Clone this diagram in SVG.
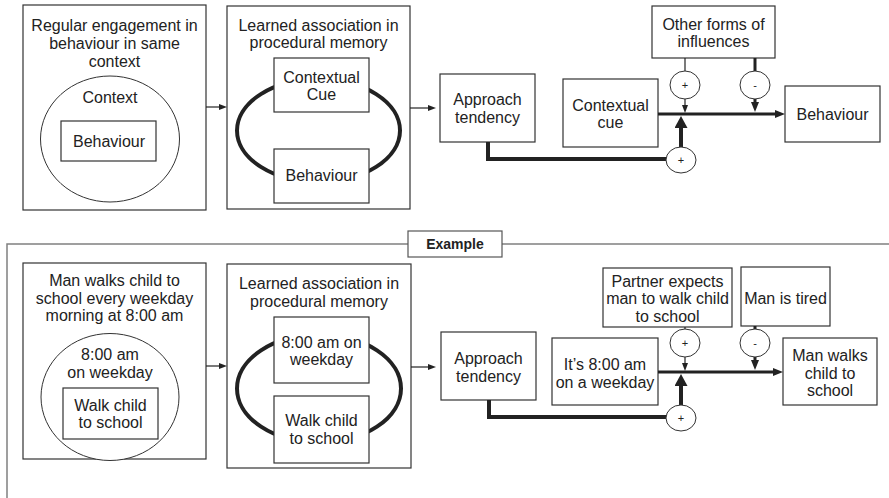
<svg xmlns="http://www.w3.org/2000/svg" width="889" height="498" viewBox="0 0 889 498">
<style>
text{font-family:"Liberation Sans",Arial,sans-serif;font-size:16px;fill:#222;text-anchor:middle;dominant-baseline:central}
.box{fill:#fff;stroke:#333;stroke-width:1.2}
.ell{fill:#fff;stroke:#333;stroke-width:1}
.loop{fill:none;stroke:#222;stroke-width:4}
.sign{fill:#fff;stroke:#333;stroke-width:1}
.sg{font-size:11px}
.thin{fill:none;stroke:#222;stroke-width:1.2}
.mid{fill:none;stroke:#222;stroke-width:3}
.thick{fill:none;stroke:#222;stroke-width:4;stroke-linejoin:miter}
.frame{fill:none;stroke:#808080;stroke-width:1.5}
.lbl{font-weight:bold;font-size:14px}
</style>
<defs>
<marker id="as" markerUnits="userSpaceOnUse" viewBox="0 0 8 6" markerWidth="8" markerHeight="6" refX="1" refY="3" orient="auto"><path d="M0,0 L8,3 L0,6 z" fill="#222"/></marker>
<marker id="am" markerUnits="userSpaceOnUse" viewBox="0 0 10 8" markerWidth="10" markerHeight="8" refX="1" refY="4" orient="auto"><path d="M0,0 L10,4 L0,8 z" fill="#222"/></marker>
<marker id="al" markerUnits="userSpaceOnUse" viewBox="0 0 12 13" markerWidth="12" markerHeight="13" refX="1" refY="6.5" orient="auto"><path d="M0,0 L12,6.5 L0,13 z" fill="#222"/></marker>
</defs>

<!-- Example frame -->
<g id="example-frame">
<path class="frame" d="M7,498 V244 H408 M502,244 H889"/>
<rect class="box" x="408" y="231" width="94" height="26" style="stroke:#555"/>
<text class="lbl" x="455" y="244">Example</text>
</g>

<!-- Top panel nodes -->
<g id="regular-engagement">
<rect class="box" x="23" y="5" width="183" height="205"/>
<text x="114.5" y="25">Regular engagement in</text>
<text x="114.5" y="43">behaviour in same</text>
<text x="114.5" y="61">context</text>
<ellipse class="ell" cx="110" cy="139" rx="69.5" ry="63"/>
<text x="110" y="97">Context</text>
<rect class="box" x="61" y="121" width="95" height="40"/>
<text x="109" y="141">Behaviour</text>
</g>

<g id="learned-association">
<rect class="box" x="227" y="6" width="183" height="203"/>
<text x="318.5" y="25">Learned association in</text>
<text x="318.5" y="42">procedural memory</text>
<ellipse class="loop" cx="318.5" cy="130.5" rx="81.5" ry="51.5"/>
<rect class="box" x="274" y="58" width="95" height="54"/>
<text x="321.5" y="77">Contextual</text>
<text x="321.5" y="94">Cue</text>
<rect class="box" x="274" y="149" width="95" height="54"/>
<text x="321.5" y="175">Behaviour</text>
</g>

<g id="approach-top">
<rect class="box" x="440" y="74" width="95" height="68"/>
<text x="487.5" y="99">Approach</text>
<text x="487.5" y="117">tendency</text>
</g>

<g id="contextual-cue-top">
<rect class="box" x="563" y="79" width="95" height="68"/>
<text x="610.5" y="105">Contextual</text>
<text x="610.5" y="122">cue</text>
</g>

<g id="other-influences">
<rect class="box" x="652" y="6" width="123" height="52"/>
<text x="713.5" y="24">Other forms of</text>
<text x="713.5" y="41">influences</text>
</g>

<g id="behaviour-top">
<rect class="box" x="785" y="86" width="95" height="56"/>
<text x="832.5" y="114">Behaviour</text>
</g>

<!-- Bottom panel nodes -->
<g id="man-walks-routine">
<rect class="box" x="23" y="263" width="183" height="196"/>
<text x="114.5" y="280">Man walks child to</text>
<text x="114.5" y="298">school every weekday</text>
<text x="114.5" y="315">morning at 8:00 am</text>
<ellipse class="ell" cx="110" cy="397" rx="69" ry="63.5"/>
<text x="110" y="354">8:00 am</text>
<text x="110" y="372">on weekday</text>
<rect class="box" x="63" y="388" width="95" height="51"/>
<text x="110.5" y="405">Walk child</text>
<text x="110.5" y="422">to school</text>
</g>

<g id="learned-association-ex">
<rect class="box" x="227" y="264" width="184" height="204"/>
<text x="319" y="283">Learned association in</text>
<text x="319" y="301">procedural memory</text>
<ellipse class="loop" cx="319" cy="388.5" rx="82" ry="54"/>
<rect class="box" x="274" y="317" width="95" height="66"/>
<text x="321.5" y="342">8:00 am on</text>
<text x="321.5" y="359">weekday</text>
<rect class="box" x="274" y="396" width="95" height="67"/>
<text x="321.5" y="420">Walk child</text>
<text x="321.5" y="438">to school</text>
</g>

<g id="approach-ex">
<rect class="box" x="441" y="332" width="95" height="68"/>
<text x="488.5" y="358">Approach</text>
<text x="488.5" y="376">tendency</text>
</g>

<g id="its-8am">
<rect class="box" x="552" y="338" width="106" height="67"/>
<text x="605" y="364">It’s 8:00 am</text>
<text x="605" y="382">on a weekday</text>
</g>

<g id="partner-expects">
<rect class="box" x="603" y="268" width="129" height="59"/>
<text x="667.5" y="281">Partner expects</text>
<text x="667.5" y="298">man to walk child</text>
<text x="667.5" y="316">to school</text>
</g>

<g id="man-tired">
<rect class="box" x="741" y="267" width="89" height="59"/>
<text x="785.5" y="298">Man is tired</text>
</g>

<g id="man-walks-ex">
<rect class="box" x="783" y="338" width="94" height="67"/>
<text x="830" y="355">Man walks</text>
<text x="830" y="373">child to</text>
<text x="830" y="390">school</text>
</g>

<!-- Connectors -->
<g id="connectors">
<path class="thin" d="M206,107 H220" marker-end="url(#as)"/>
<path class="thin" d="M410,108 H429" marker-end="url(#as)"/>
<path class="mid" d="M658,114 H776" marker-end="url(#am)"/>
<path class="thin" d="M685,58 V71"/>
<path class="thin" d="M685,99 V106" marker-end="url(#as)"/>
<path class="mid" d="M755,58 V71"/>
<path class="mid" d="M755,99 V103" marker-end="url(#am)"/>
<path class="thick" d="M488,142 V159 H666"/>
<path class="thick" d="M681,147 V127" marker-end="url(#al)"/>

<path class="thin" d="M206,366 H220" marker-end="url(#as)"/>
<path class="thin" d="M411,367 H429" marker-end="url(#as)"/>
<path class="mid" d="M658,372 H774" marker-end="url(#am)"/>
<path class="thin" d="M685,327 V329"/>
<path class="thin" d="M685,357 V364" marker-end="url(#as)"/>
<path class="mid" d="M755,326 V329"/>
<path class="mid" d="M755,357 V361" marker-end="url(#am)"/>
<path class="thick" d="M489,400 V417 H666"/>
<path class="thick" d="M681,405 V385" marker-end="url(#al)"/>
</g>

<g id="signs">
<ellipse class="sign" cx="685" cy="85" rx="15" ry="14"/><text class="sg" x="685" y="85">+</text>
<ellipse class="sign" cx="755" cy="85" rx="15" ry="14"/><text class="sg" x="755" y="85">-</text>
<ellipse class="sign" cx="681" cy="160" rx="15" ry="13"/><text class="sg" x="681" y="160">+</text>
<ellipse class="sign" cx="685" cy="343" rx="15" ry="14"/><text class="sg" x="685" y="343">+</text>
<ellipse class="sign" cx="755" cy="343" rx="15" ry="14"/><text class="sg" x="755" y="343">-</text>
<ellipse class="sign" cx="681" cy="418" rx="15" ry="13"/><text class="sg" x="681" y="418">+</text>
</g>
</svg>
